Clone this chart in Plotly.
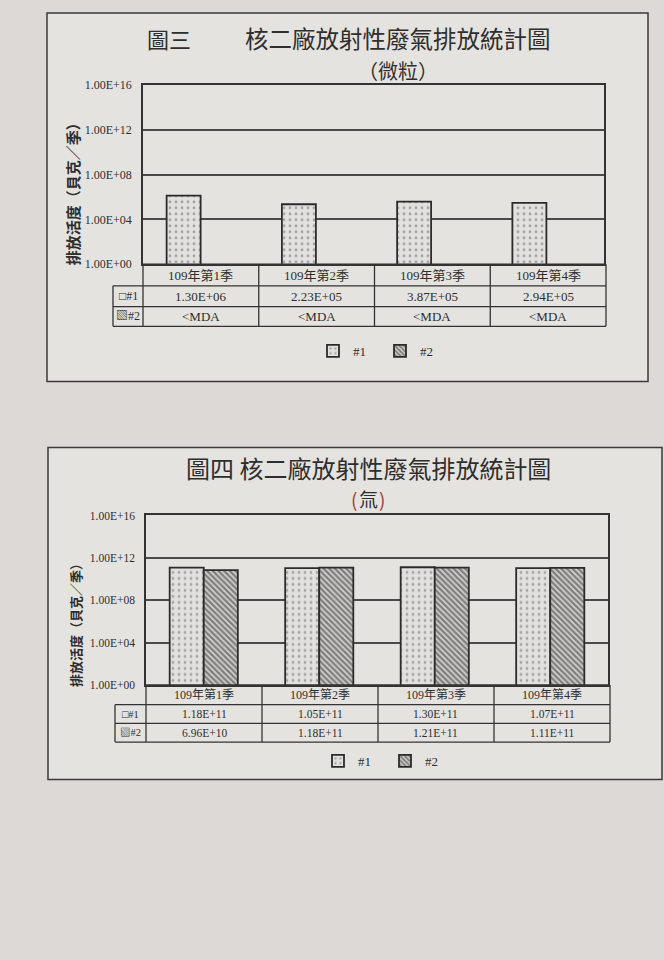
import plotly.graph_objects as go

# ---------------- data ----------------
quarters = ["109年第1季", "109年第2季", "109年第3季", "109年第4季"]
series_names = ["#1", "#2"]
particulate_u1 = [1.30e6, 2.23e5, 3.87e5, 2.94e5]
particulate_u2 = [None, None, None, None]          # below MDA, not plotted
particulate_u2_text = ["<MDA", "<MDA", "<MDA", "<MDA"]
tritium_u1 = [1.18e11, 1.05e11, 1.30e11, 1.07e11]
tritium_u2 = [6.96e10, 1.18e11, 1.21e11, 1.11e11]
tick_vals = [1e0, 1e4, 1e8, 1e12, 1e16]
tick_labels = ["1.00E+00", "1.00E+04", "1.00E+08", "1.00E+12", "1.00E+16"]
y_title = "排放活度（貝克／季）"

# ---------------- helpers ----------------
W, H = 664, 960
def px(x): return x / W
def py(y): return 1 - y / H

SER = "Liberation Serif, Noto Sans CJK TC, DejaVu Sans, serif"
CJK = "Noto Sans CJK TC, sans-serif"
INK = "#2e2e2e"
BG = "#dcd9d6"
PANEL = "#e5e3e0"

def fmt(v):
    return f"{v:.2E}"

def ann(x, y, text, font, **kw):
    d = dict(x=px(x), y=py(y), xref="paper", yref="paper", text=text, showarrow=False,
             xanchor="center", yanchor="middle", font=font)
    d.update(kw)
    return d

fig = go.Figure()

pat1 = dict(shape=".", fgcolor="#666666", bgcolor="#e3e1de", size=6, solidity=0.18)
pat2 = dict(shape="\\", fgcolor="#2a2a2a", bgcolor="#d6d4d1", size=4, solidity=0.6)
m1 = dict(color="#e3e1de", line=dict(color="#2b2b2b", width=1.8), pattern=pat1)
m2 = dict(color="#d6d4d1", line=dict(color="#2b2b2b", width=1.8), pattern=pat2)

# Chart 1 (particulates)
fig.add_bar(x=quarters, y=particulate_u1, name=series_names[0], xaxis="x", yaxis="y",
            marker=m1, legend="legend")
fig.add_bar(x=quarters, y=particulate_u2, name=series_names[1], xaxis="x", yaxis="y",
            marker=m2, legend="legend")
# Chart 2 (tritium)
fig.add_bar(x=quarters, y=tritium_u1, name=series_names[0], xaxis="x2", yaxis="y2",
            marker=m1, legend="legend2")
fig.add_bar(x=quarters, y=tritium_u2, name=series_names[1], xaxis="x2", yaxis="y2",
            marker=m2, legend="legend2")

# geometry (pixels in the page)
C1 = dict(l=143, r=604, t=79, b=261, lab=113, rows=[261, 283, 304, 324], tr=606)
C2 = dict(l=146, r=608, t=516, b=688, lab=115, rows=[688, 708, 727, 746], tr=610)

def yaxis_cfg(c, anchor, fs):
    return dict(domain=[py(c["b"]), py(c["t"])], type="log", range=[0, 16],
                tickvals=tick_vals, ticktext=tick_labels, anchor=anchor,
                tickfont=dict(family=SER, size=fs, color=INK),
                showgrid=True, gridcolor="#4a4a4a", gridwidth=1.5,
                showline=True, linecolor="#333", linewidth=1.5, mirror=True,
                ticks="", zeroline=False, ticklabelstandoff=7)

def xaxis_cfg(c, anchor):
    return dict(domain=[px(c["l"]), px(c["r"])], anchor=anchor, showticklabels=False,
                showline=True, linecolor="#333", linewidth=1.5, mirror=True,
                showgrid=False, ticks="", range=[-0.5, 3.5])

shapes = []
annotations = []

# panels
for (x0, y0, x1, y1) in [(47, 6, 648, 380), (48, 447, 662, 784)]:
    shapes.append(dict(type="rect", xref="paper", yref="paper", x0=px(x0), x1=px(x1),
                       y0=py(y1), y1=py(y0), fillcolor=PANEL,
                       line=dict(color="#3a3a3a", width=1.5), layer="below"))

def table(c, row1, row2, fs_head, fs_body):
    lw = dict(color="#333", width=1.3)
    r = c["rows"]
    tr = c["tr"]
    shapes.append(dict(type="line", xref="paper", yref="paper", x0=px(c["l"]), x1=px(tr),
                       y0=py(r[0]), y1=py(r[0]), line=lw))
    for yy in r[1:]:
        shapes.append(dict(type="line", xref="paper", yref="paper", x0=px(c["lab"]), x1=px(tr),
                           y0=py(yy), y1=py(yy), line=lw))
    shapes.append(dict(type="line", xref="paper", yref="paper", x0=px(c["lab"]), x1=px(c["lab"]),
                       y0=py(r[1]), y1=py(r[3]), line=lw))
    cw = (tr - c["l"]) / 4
    for i in range(5):
        xx = c["l"] + i * cw
        shapes.append(dict(type="line", xref="paper", yref="paper", x0=px(xx), x1=px(xx),
                           y0=py(r[0]), y1=py(r[3]), line=lw))
    fh = dict(family=SER, size=fs_head, color=INK)
    fb = dict(family=SER, size=fs_body, color=INK)
    for i, q in enumerate(quarters):
        xc = c["l"] + (i + 0.5) * cw
        annotations.append(ann(xc, (r[0] + r[1]) / 2, q, fh))
        annotations.append(ann(xc, (r[1] + r[2]) / 2, row1[i], fb))
        annotations.append(ann(xc, (r[2] + r[3]) / 2, row2[i], fb))
    labx = (c["lab"] + c["l"]) / 2
    fl = dict(family=SER, size=fs_body - 1, color=INK)
    annotations.append(ann(labx, (r[1] + r[2]) / 2, "□" + series_names[0], fl))
    annotations.append(ann(labx, (r[2] + r[3]) / 2, "▧" + series_names[1], fl))

table(C1, [fmt(v) for v in particulate_u1], particulate_u2_text, 13, 13)
table(C2, [fmt(v) for v in tritium_u1], [fmt(v) for v in tritium_u2], 12, 11.5)

RED = "#a83a32"
# titles
annotations += [
    ann(169, 31, "圖三", dict(family=CJK, size=22, color=INK)),
    ann(398, 31, "核二廠放射性廢氣排放統計圖", dict(family=CJK, size=23.5, color=INK)),
    ann(398, 64, "（微粒）", dict(family=CJK, size=20, color=INK)),
    ann(368, 467, "圖四 核二廠放射性廢氣排放統計圖", dict(family=CJK, size=24, color=INK)),
    ann(354, 499, "(", dict(family=CJK, size=19, color=RED)),
    ann(368, 499, "氚", dict(family=CJK, size=19, color=INK)),
    ann(382, 499, ")", dict(family=CJK, size=19, color=RED)),
    ann(72, 186, y_title, dict(family=CJK, size=15, color=INK, weight=600), textangle=-90),
    ann(76, 624, y_title, dict(family=CJK, size=13, color=INK, weight=600), textangle=-90),
]

leg_common = dict(orientation="h", xanchor="center", yanchor="middle",
                  bgcolor="rgba(0,0,0,0)", itemwidth=30, traceorder="normal",
                  entrywidth=22, entrywidthmode="pixels",
                  font=dict(family=SER, size=13, color=INK))

fig.update_layout(
    width=W, height=H, margin=dict(l=0, r=0, t=0, b=0),
    paper_bgcolor=BG, plot_bgcolor="rgba(0,0,0,0)",
    barmode="group", bargap=0.41, bargroupgap=0,
    xaxis=xaxis_cfg(C1, "y"), yaxis=yaxis_cfg(C1, "x", 12),
    xaxis2=xaxis_cfg(C2, "y2"), yaxis2=yaxis_cfg(C2, "x2", 11.5),
    legend=dict(x=px(380), y=py(349), **leg_common),
    legend2=dict(x=px(385), y=py(765), **leg_common),
    shapes=shapes, annotations=annotations,
)

fig.write_html("out.html", config={"displayModeBar": False},
               post_script="document.body.style.margin='0';document.body.style.background='#dcd9d6';")
